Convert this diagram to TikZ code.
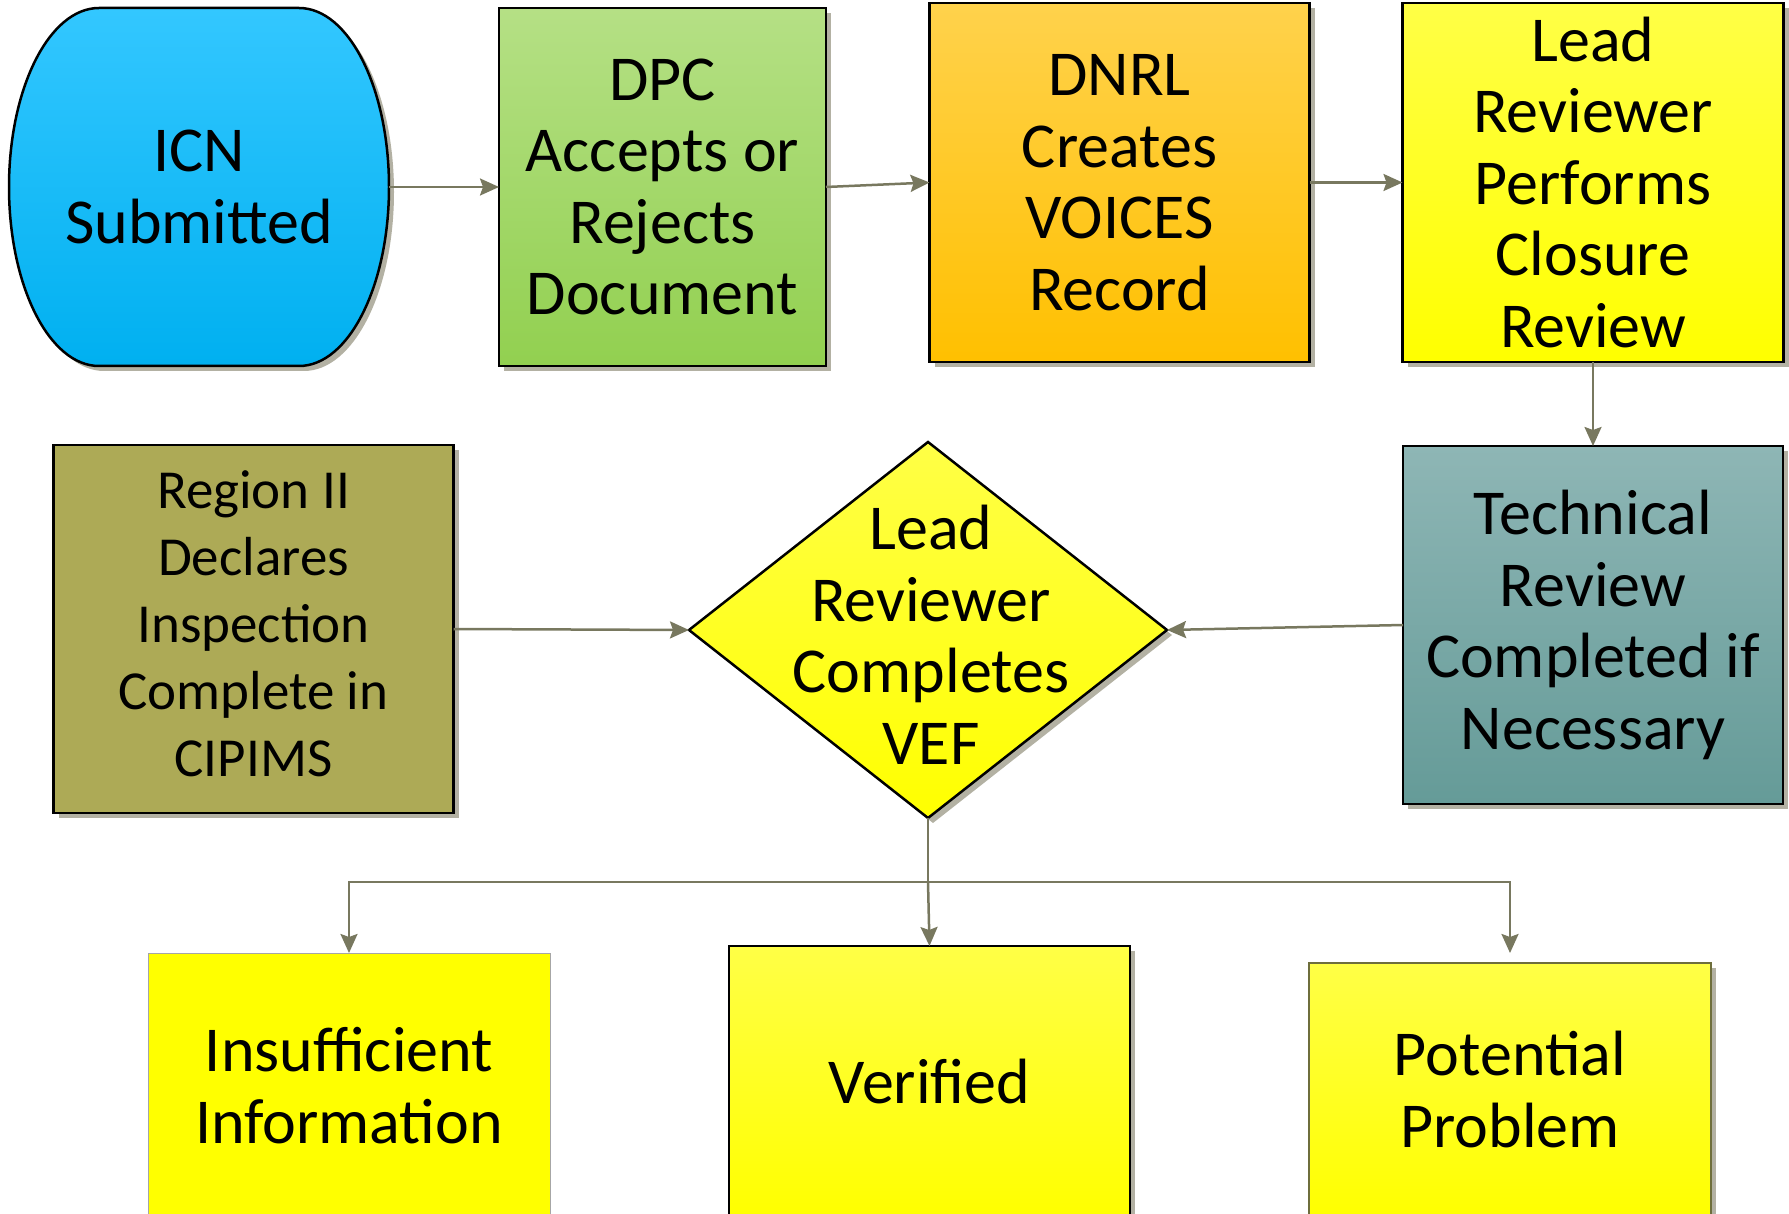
\documentclass[tikz,border=0pt]{standalone}
\usepackage{fontspec}
\setmainfont{Carlito}
\usetikzlibrary{shapes.geometric,shadows,arrows.meta}
\definecolor{linec}{RGB}{120,120,95}
\definecolor{shadowc}{RGB}{160,158,140}
\definecolor{icntop}{RGB}{51,199,255}
\definecolor{icnbot}{RGB}{0,176,240}
\definecolor{dpctop}{RGB}{181,224,133}
\definecolor{dpcbot}{RGB}{146,208,80}
\definecolor{dnrltop}{RGB}{255,210,76}
\definecolor{dnrlbot}{RGB}{255,192,0}
\definecolor{ylwtop}{RGB}{255,255,70}
\definecolor{ylwbot}{RGB}{255,255,0}
\definecolor{tectop}{RGB}{142,182,181}
\definecolor{tecbot}{RGB}{101,155,152}
\definecolor{olivec}{RGB}{173,170,86}
\definecolor{potc}{RGB}{110,110,60}
\tikzset{
  txt/.style={inner sep=0pt, outer sep=0pt, align=center, font=\fontsize{64}{71.5}\selectfont},
  box/.style={txt, rectangle, draw=black, line width=2.5pt},
  shadowed/.style={drop shadow={shadow xshift=5pt, shadow yshift=-5pt, fill=shadowc, opacity=.8}},
  flow/.style={draw=linec, line width=2.5pt, -{Stealth[length=19pt,width=17pt,inset=3pt]}}
}
\begin{document}
\begin{tikzpicture}[x=1pt,y=1pt]
  \useasboundingbox (0,0) rectangle (1789,-1214);
  \clip (0,0) rectangle (1789,-1214);
  \path[draw=black, line width=2.5pt, top color=icntop, bottom color=icnbot, shadowed] (99,-8) -- (299,-8) arc[start angle=90, end angle=-90, x radius=90, y radius=179] -- (99,-366) arc[start angle=270, end angle=90, x radius=90, y radius=179] -- cycle;
  \node[txt, minimum width=380pt, minimum height=358pt] (icn) at (199,-187) {ICN\\Submitted};
  \node[box, shadowed, top color=dpctop, bottom color=dpcbot, minimum width=327pt, minimum height=358pt] (dpc) at (662.5,-187) {DPC\\Accepts or\\Rejects\\Document};
  \node[box, shadowed, top color=dnrltop, bottom color=dnrlbot, minimum width=380pt, minimum height=359pt] (dnrl) at (1119.5,-182.5) {DNRL\\Creates\\VOICES\\Record};
  \node[box, shadowed, top color=ylwtop, bottom color=ylwbot, minimum width=381pt, minimum height=359pt] (lrp) at (1593,-182.5) {Lead\\Reviewer\\Performs\\Closure\\Review};
  \node[box, shadowed, top color=tectop, bottom color=tecbot, minimum width=380pt, minimum height=358pt] (tech) at (1593,-625) {Technical\\Review\\Completed if\\Necessary};
  \node[box, shadowed, fill=olivec, minimum width=400pt, minimum height=368pt, text depth=11pt, font=\fontsize{55}{67}\selectfont] (region) at (253.5,-629) {Region II\\Declares\\Inspection\\Complete in\\CIPIMS};
  \node[box, shadowed, diamond, top color=ylwtop, bottom color=ylwbot, minimum width=478pt, minimum height=376pt] (vef) at (928,-630) {};
  \node[txt] (veftxt) at (931,-635) {Lead\\Reviewer\\Completes\\VEF};
  \node[box, draw=gray!70, line width=1pt, fill=ylwbot, minimum width=402pt, minimum height=265pt] (ins) at (349,-1085.5) {Insufficient\\Information};
  \node[box, shadowed, top color=ylwtop, bottom color=ylwbot, minimum width=401pt, minimum height=270pt] (ver) at (929.5,-1081) {Verified};
  \node[box, shadowed, draw=potc, line width=1.5pt, top color=ylwtop, bottom color=ylwbot, minimum width=402pt, minimum height=253pt] (pot) at (1510,-1089.5) {Potential\\Problem};
  \draw[flow] (icn.east) -- (dpc.west);
  \draw[flow] (dpc.east) -- (dnrl.west);
  \draw[flow] (dnrl.east) -- (lrp.west);
  \draw[flow] (lrp.south) -- (tech.north);
  \draw[flow] (tech.west) -- (vef.east);
  \draw[flow] (region.east) -- (vef.west);
  \coordinate (fork) at (928,-882);
  \draw[draw=linec, line width=2.5pt] (vef.south) -- (fork);
  \draw[flow] (fork) -| (ins.north);
  \draw[flow] (fork) -- (ver.north);
  \draw[flow] (fork) -| ([yshift=10pt]pot.north);
\end{tikzpicture}
\end{document}
